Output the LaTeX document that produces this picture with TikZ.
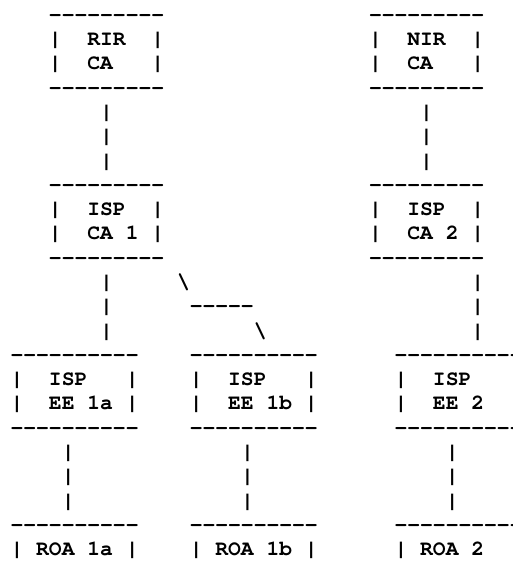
\documentclass[tikz,border=0pt]{standalone}
\usepackage{fontspec}
\setmonofont{texgyrecursor}[Extension=.otf,UprightFont=*-regular,BoldFont=*-bold]
\tikzset{
  asc/.style={font={\fontsize{21.33pt}{24pt}\selectfont\ttfamily\bfseries},anchor=base west,inner sep=0pt,outer sep=0pt}
}
\begin{document}
\begin{tikzpicture}[x=12.8pt,y=-24.29pt]
	\useasboundingbox (0,0) rectangle (40,23.4664);
	\begin{scope}[shift={(0.828,-0.1225)}]
		% RIR CA and NIR CA
		\node[asc](rirtop) at (3,1){---------};
		\node[asc](rirname) at (3,2){|~~RIR~~|};
		\node[asc](rirca) at (3,3){|~~CA~~~|};
		\node[asc](rirbot) at (3,4){---------};
		\node[asc](nirtop) at (28,1){---------};
		\node[asc](nirname) at (28,2){|~~NIR~~|};
		\node[asc](nirca) at (28,3){|~~CA~~~|};
		\node[asc](nirbot) at (28,4){---------};
		\node[asc](rirlinka) at (7,5){|};
		\node[asc](rirlinkb) at (7,6){|};
		\node[asc](rirlinkc) at (7,7){|};
		\node[asc](nirlinka) at (32,5){|};
		\node[asc](nirlinkb) at (32,6){|};
		\node[asc](nirlinkc) at (32,7){|};
		% ISP CA 1 and ISP CA 2
		\node[asc](caonetop) at (3,8){---------};
		\node[asc](caonename) at (3,9){|~~ISP~~|};
		\node[asc](caonenum) at (3,10){|~~CA~1~|};
		\node[asc](caonebot) at (3,11){---------};
		\node[asc](catwotop) at (28,8){---------};
		\node[asc](catwoname) at (28,9){|~~ISP~~|};
		\node[asc](catwonum) at (28,10){|~~CA~2~|};
		\node[asc](catwobot) at (28,11){---------};
		\node[asc](caonelinka) at (7,12){|};
		\node[asc](caonelinkb) at (7,13){|};
		\node[asc](caonelinkc) at (7,14){|};
		\node[asc](branchup) at (13,12){\textbackslash};
		\node[asc](branchmid) at (14,13){-----};
		\node[asc](branchdown) at (19,14){\textbackslash};
		\node[asc](catwolinka) at (36,12){|};
		\node[asc](catwolinkb) at (36,13){|};
		\node[asc](catwolinkc) at (36,14){|};
		% EE certificates
		\node[asc](eeatop) at (0,15){----------};
		\node[asc](eeaname) at (0,16){|~~ISP~~~|};
		\node[asc](eeanum) at (0,17){|~~EE~1a~|};
		\node[asc](eeabot) at (0,18){----------};
		\node[asc](eebtop) at (14,15){----------};
		\node[asc](eebname) at (14,16){|~~ISP~~~|};
		\node[asc](eebnum) at (14,17){|~~EE~1b~|};
		\node[asc](eebbot) at (14,18){----------};
		\node[asc](eectop) at (30,15){----------};
		\node[asc](eecname) at (30,16){|~~ISP};
		\node[asc](eecnum) at (30,17){|~~EE~2};
		\node[asc](eecbot) at (30,18){----------};
		\node[asc](eealinka) at (4,19){|};
		\node[asc](eealinkb) at (4,20){|};
		\node[asc](eealinkc) at (4,21){|};
		\node[asc](eeblinka) at (18,19){|};
		\node[asc](eeblinkb) at (18,20){|};
		\node[asc](eeblinkc) at (18,21){|};
		\node[asc](eeclinka) at (34,19){|};
		\node[asc](eeclinkb) at (34,20){|};
		\node[asc](eeclinkc) at (34,21){|};
		% ROAs
		\node[asc](roaatop) at (0,22){----------};
		\node[asc](roaaname) at (0,23){|~ROA~1a~|};
		\node[asc](roabtop) at (14,22){----------};
		\node[asc](roabname) at (14,23){|~ROA~1b~|};
		\node[asc](roactop) at (30,22){----------};
		\node[asc](roacname) at (30,23){|~ROA~2};
	\end{scope}
\end{tikzpicture}
\end{document}
